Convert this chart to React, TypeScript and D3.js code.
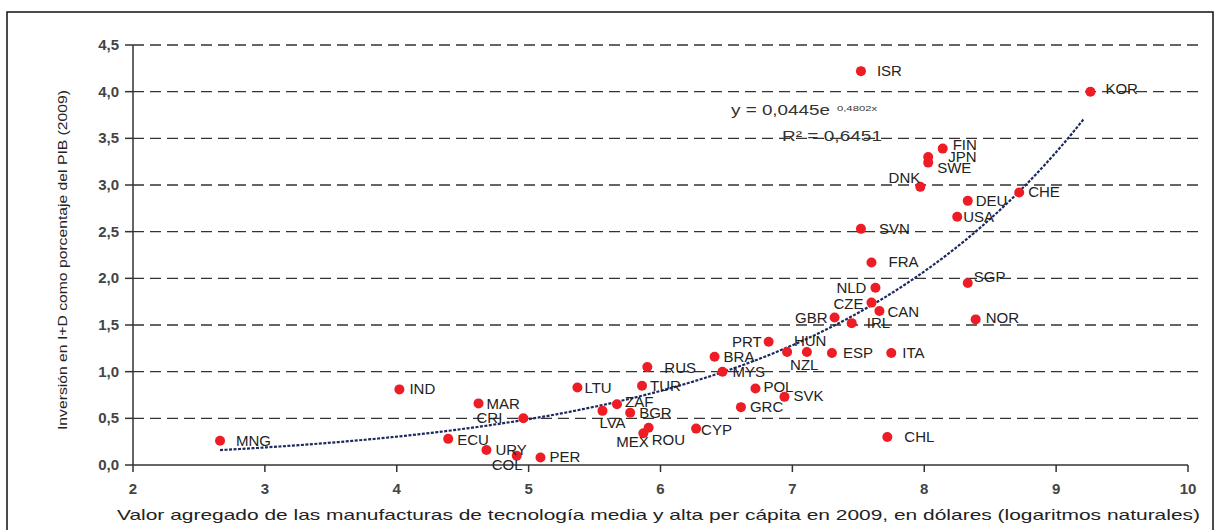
import React from "react";
import * as d3 from "d3";

// country codes, x = ln(value added per capita), y = R&D % of GDP
const codes = ["MNG","IND","MAR","CRI","ECU","URY","COL","PER","LTU","RUS","TUR","ZAF","LVA","BGR","MEX","ROU","CYP","BRA","MYS","PRT","NZL","HUN","POL","SVK","GRC","ESP","ITA","GBR","IRL","CAN","CZE","NLD","FRA","SGP","NOR","CHL","SVN","ISR","KOR","FIN","JPN","SWE","DNK","CHE","DEU","USA"];
const xValues = [2.66,4.02,4.62,4.96,4.39,4.68,4.91,5.09,5.37,5.90,5.86,5.67,5.56,5.77,5.87,5.91,6.27,6.41,6.47,6.82,6.96,7.11,6.72,6.94,6.61,7.30,7.75,7.32,7.45,7.66,7.60,7.63,7.60,8.33,8.39,7.72,7.52,7.52,9.26,8.14,8.03,8.03,7.97,8.72,8.33,8.25];
const yValues = [0.26,0.81,0.66,0.50,0.28,0.16,0.10,0.08,0.83,1.05,0.85,0.65,0.58,0.56,0.34,0.40,0.39,1.16,1.00,1.32,1.21,1.21,0.82,0.73,0.62,1.20,1.20,1.58,1.52,1.65,1.74,1.90,2.17,1.95,1.56,0.30,2.53,4.22,4.00,3.39,3.30,3.24,2.98,2.92,2.83,2.66];

const xTicks = [2,3,4,5,6,7,8,9,10];
const yTicks = [0,0.5,1,1.5,2,2.5,3,3.5,4,4.5];

const trendA = 0.0445;
const trendB = 0.4802;
const trendRange = [2.66, 9.25];

// label placement: [dx, dy, anchor]
const labelPos: Record<string, [number, number, string]> = {
  MNG: [16, 0, "start"], IND: [10, 0, "start"], MAR: [8, 1, "start"], CRI: [-21, 0, "end"],
  ECU: [9, 1, "start"], URY: [9, 0, "start"], COL: [-25, 9, "start"], PER: [9, -1, "start"],
  LTU: [7, 0, "start"], RUS: [17, 1, "start"], TUR: [8, 0, "start"], ZAF: [8, -2, "start"],
  LVA: [-3, 12, "start"], BGR: [9, 0, "start"], MEX: [-27, 9, "start"], ROU: [3, 12, "start"],
  CYP: [5, 1, "start"], BRA: [9, 0, "start"], MYS: [10, 0, "start"], PRT: [-7, 0, "end"],
  NZL: [3, 13, "start"], HUN: [-13, -11, "start"], POL: [8, -1, "start"], SVK: [9, -1, "start"],
  GRC: [9, 0, "start"], ESP: [11, 0, "start"], ITA: [11, 0, "start"], GBR: [-7, 0, "end"],
  IRL: [15, 0, "start"], CAN: [8, 1, "start"], CZE: [-8, 1, "end"], NLD: [-9, 0, "end"],
  FRA: [17, 0, "start"], SGP: [6, -6, "start"], NOR: [10, -1, "start"], CHL: [17, 0, "start"],
  SVN: [18, 0, "start"], ISR: [16, 0, "start"], KOR: [15, -3, "start"], FIN: [10, -4, "start"],
  JPN: [20, 0, "start"], SWE: [9, 5, "start"], DNK: [0, -9, "end"], CHE: [9, 0, "start"],
  DEU: [8, 0, "start"], USA: [6, 0, "start"],
};

const font = "'Liberation Sans', Arial, sans-serif";

const App = () => {
  const x = d3.scaleLinear().domain([2, 10]).range([133, 1188]);
  const y = d3.scaleLinear().domain([0, 4.5]).range([465, 45]);
  const fmt = (v: number) => d3.format(".1f")(v).replace(".", ",");

  const trendX = d3.range(trendRange[0], trendRange[1] + 0.001, 0.05);
  const line = d3.line<number>()
    .x((d) => x(d))
    .y((d) => y(trendA * Math.exp(trendB * d)));

  return (
    <svg width={1220} height={530} style={{ position: "absolute", left: 0, top: 0 }} fontFamily={font}>
      <rect x={0} y={0} width={1220} height={530} fill="#fff" />
      <rect x={7} y={12} width={1206} height={530} fill="none" stroke="#111" strokeWidth={1.5} />

      {/* grid */}
      {yTicks.filter((t) => t > 0).map((t) => (
        <line key={t} x1={x(2)} x2={1202} y1={y(t)} y2={y(t)} stroke="#333" strokeWidth={1.4} strokeDasharray="11 6" />
      ))}

      {/* axes */}
      <line x1={x(2)} x2={x(2)} y1={y(4.5)} y2={y(0)} stroke="#333" strokeWidth={1.5} />
      <line x1={x(2)} x2={x(10)} y1={y(0)} y2={y(0)} stroke="#333" strokeWidth={1.5} />
      {yTicks.map((t) => (
        <g key={t}>
          <line x1={x(2) - 8} x2={x(2)} y1={y(t)} y2={y(t)} stroke="#333" strokeWidth={1.5} />
          <text x={119} y={y(t) + 5} textAnchor="end" fontSize={15} fontWeight="bold" fill="#444">{fmt(t)}</text>
        </g>
      ))}
      {xTicks.map((t) => (
        <g key={t}>
          <line x1={x(t)} x2={x(t)} y1={y(0)} y2={y(0) + 7} stroke="#333" strokeWidth={1.5} />
          <text x={x(t)} y={494} textAnchor="middle" fontSize={15} fontWeight="bold" fill="#444">{t}</text>
        </g>
      ))}

      {/* trend */}
      <path d={line(trendX) || ""} fill="none" stroke="#1c2a5e" strokeWidth={2.2} strokeDasharray="3 1.5" />
      <text x={731} y={115} fontSize={14} fill="#333" textLength={99} lengthAdjust="spacingAndGlyphs">y = 0,0445e</text>
      <text x={837} y={111} fontSize={8} fill="#333" textLength={40} lengthAdjust="spacingAndGlyphs">0,4802x</text>
      <text x={782} y={141} fontSize={14} fill="#333" textLength={100} lengthAdjust="spacingAndGlyphs">R² = 0,6451</text>

      {/* points */}
      {codes.map((c, i) => (
        <circle key={c} cx={x(xValues[i])} cy={y(yValues[i])} r={5} fill="#ee1c25" />
      ))}
      {codes.map((c, i) => {
        const [dx, dy, anchor] = labelPos[c];
        return (
          <text key={c} x={x(xValues[i]) + dx} y={y(yValues[i]) + dy + 5} textAnchor={anchor as any}
            fontSize={15} fill="#222">{c}</text>
        );
      })}

      {/* titles */}
      <text transform="translate(67,260) rotate(-90)" textAnchor="middle" fontSize={13} fill="#222"
        textLength={340} lengthAdjust="spacingAndGlyphs">Inversión en I+D como porcentaje del PIB (2009)</text>
      <text x={117} y={520} fontSize={15} fill="#222" textLength={1083} lengthAdjust="spacingAndGlyphs">
        Valor agregado de las manufacturas de tecnología media y alta per cápita en 2009, en dólares (logaritmos naturales)
      </text>
    </svg>
  );
};

export default App;
